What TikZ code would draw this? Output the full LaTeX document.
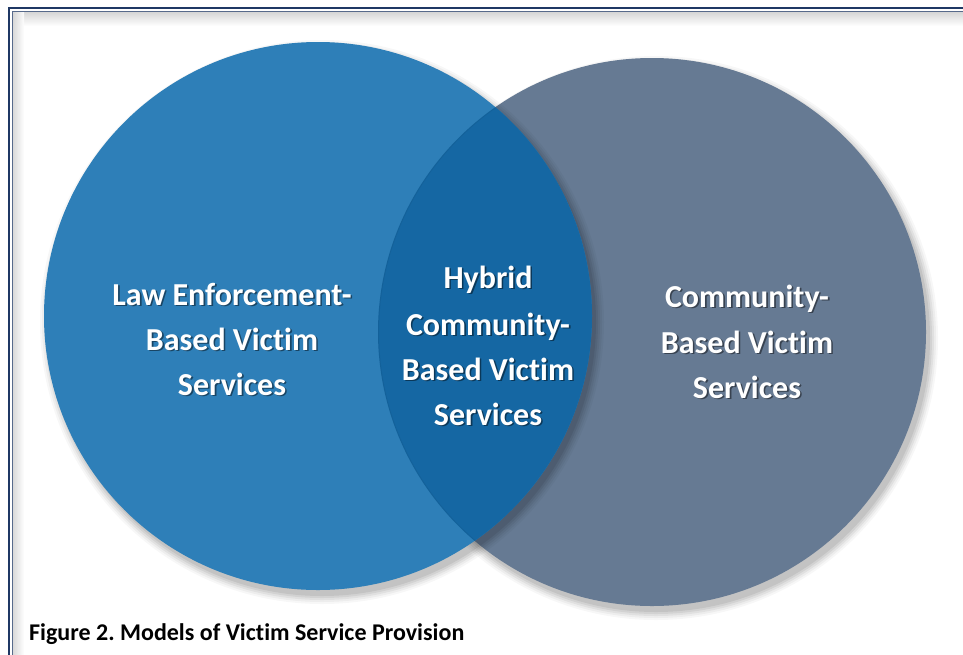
\documentclass[tikz,border=0pt]{standalone}
\usepackage{fontspec}
\setmainfont{Carlito}[Ligatures={NoCommon}]
\usetikzlibrary{calc}
\definecolor{lawblue}{HTML}{2E7FB8}
\definecolor{commgray}{HTML}{667A93}
\definecolor{hybblue}{HTML}{1567A3}
\definecolor{framenavy}{HTML}{1F3864}
\frenchspacing
\tikzset{
  vlabel/.style={font=\fontsize{32}{45}\bfseries\selectfont, text=white, inner sep=0pt, anchor=base},
  vshadow/.style={vlabel, text=black, text opacity=0.45},
  capstyle/.style={font=\fontsize{24}{29}\bfseries\selectfont, text=black, inner sep=0pt, anchor=base west}
}
\newcommand\vtxt[4]{%
  \node[vshadow] (#1s) at (#2+1.6,#3+1.6) {#4};
  \node[vlabel] (#1) at (#2,#3) {#4};}
\begin{document}
\begin{tikzpicture}[x=1pt,y=-1pt]
\useasboundingbox (0,0) rectangle (963,654);
\fill[white] (0,0) rectangle (963,654);
% frame with inner shadow
\begin{scope}
  \clip (0,0) rectangle (963,654);
  \shade[top color=black!16, bottom color=white] (13,12) rectangle (963,26);
  \shade[left color=black!16, right color=white, fill opacity=0.9] (13,12) rectangle (24,654);
  \draw[framenavy, line width=2.6pt] (9,8) rectangle (1000,700);
  \draw[framenavy!75, line width=0.8pt] (12.5,11.5) rectangle (1000,700);
\end{scope}
% circles
\coordinate (L) at (318,316);
\coordinate (R) at (652,332);
\foreach \d/\o in {8/0.03,6/0.04,4/0.05,2/0.06,0/0.07}
  \fill[black,opacity=\o] ($(R)+(4,6)$) circle[radius=274+\d];
\fill[commgray] (R) circle[radius=274];
\foreach \d/\o in {8/0.03,6/0.04,4/0.05,2/0.06,0/0.07}
  \fill[black,opacity=\o] ($(L)+(4,6)$) circle[radius=274+\d];
\fill[lawblue] (L) circle[radius=274];
\begin{scope}
  \clip (R) circle[radius=274];
  \fill[hybblue] (L) circle[radius=274];
  \clip (L) circle[radius=274];
  \draw[black, opacity=0.05, line width=2pt] (R) circle[radius=274];
\end{scope}
% texts
\vtxt{l1}{232}{305}{Law Enforcement-}
\vtxt{l2}{232}{350}{Based Victim}
\vtxt{l3}{232}{395}{Services}
\vtxt{h1}{488}{288}{Hybrid}
\vtxt{h2}{488}{335}{Community-}
\vtxt{h3}{488}{380}{Based Victim}
\vtxt{h4}{488}{425}{Services}
\vtxt{r1}{747}{307}{Community-}
\vtxt{r2}{747}{353}{Based Victim}
\vtxt{r3}{747}{398}{Services}
\node[capstyle] (cap) at (29,640) {Figure 2. Models of Victim Service Provision};
\end{tikzpicture}
\end{document}
